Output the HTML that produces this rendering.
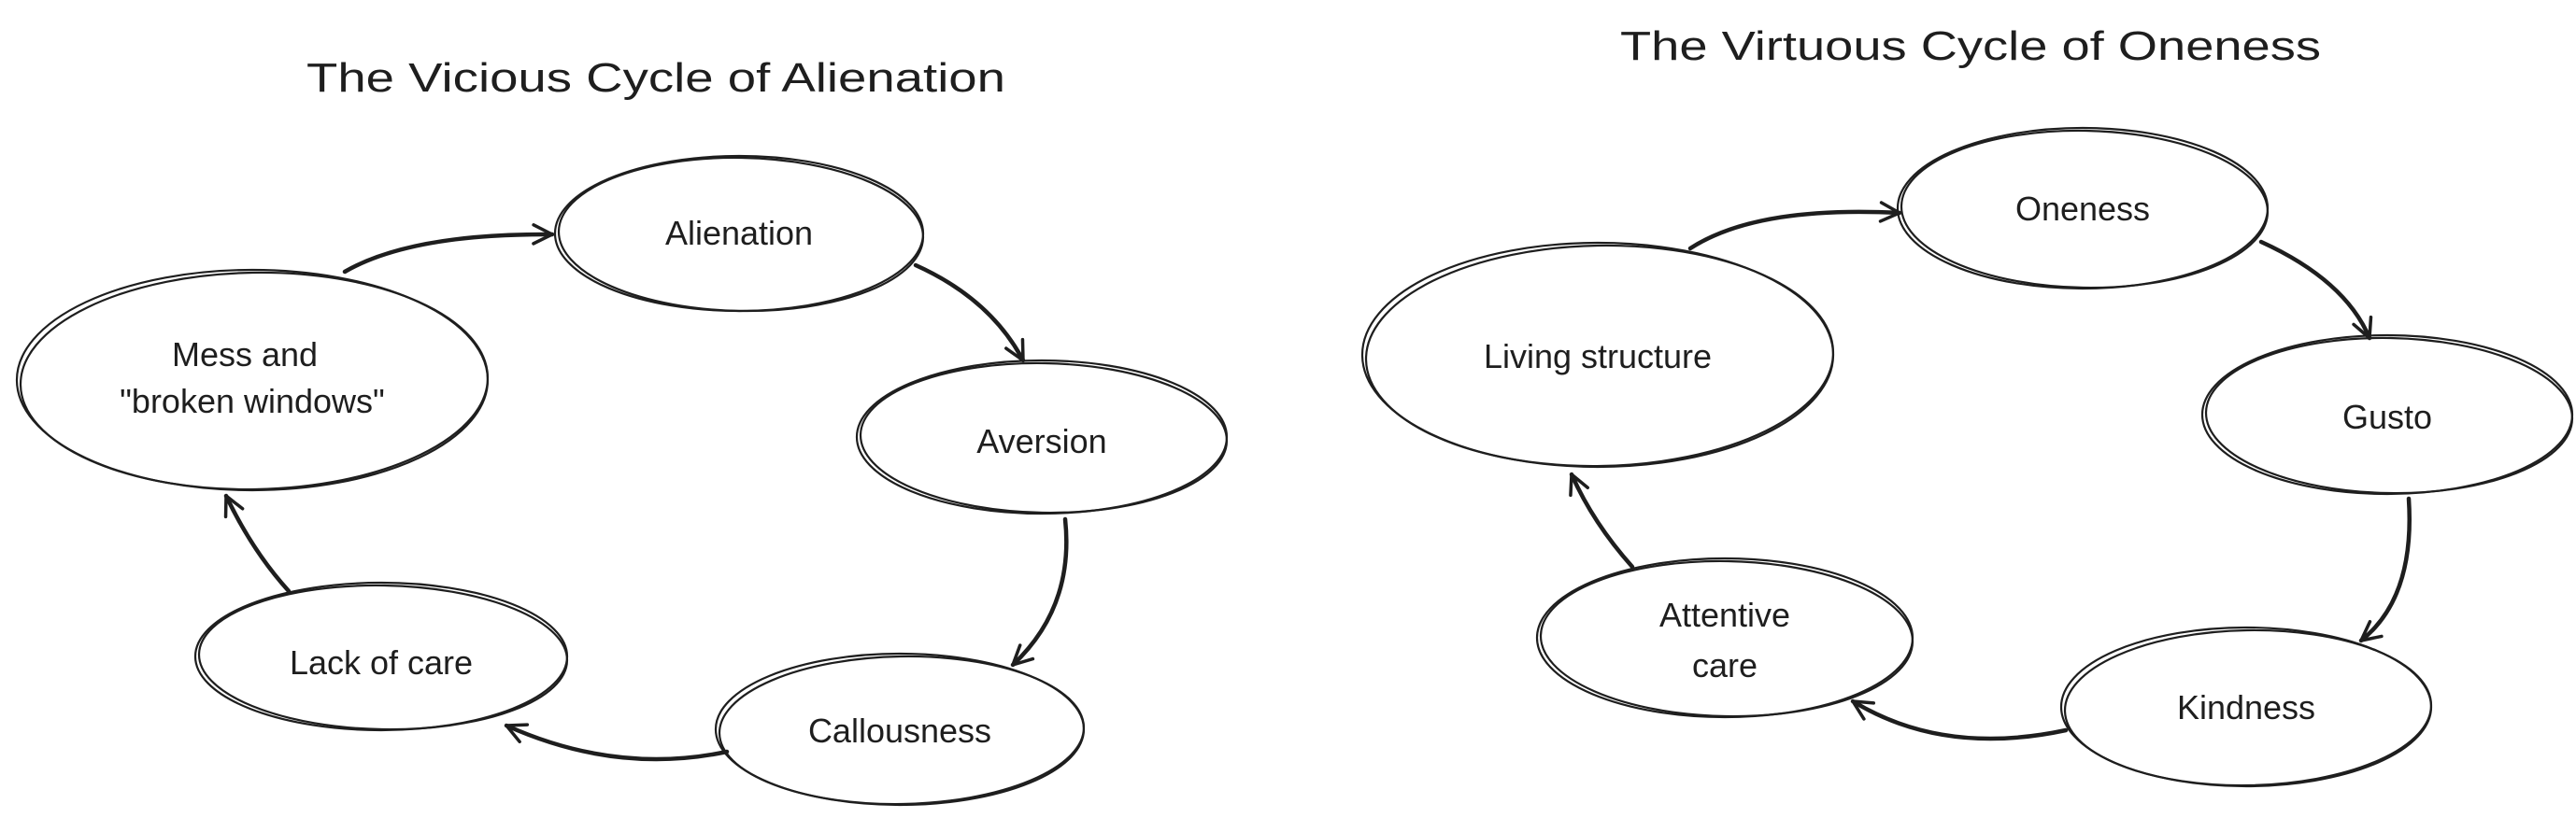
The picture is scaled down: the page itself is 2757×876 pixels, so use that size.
<!DOCTYPE html>
<html><head><meta charset="utf-8"><style>html,body{margin:0;padding:0;background:#fff}svg{display:block}</style></head>
<body>
<svg width="2757" height="876" viewBox="0 0 2757 876" xmlns="http://www.w3.org/2000/svg">
<defs>
<marker id="a" markerWidth="30" markerHeight="30" refX="22" refY="12" orient="auto" markerUnits="userSpaceOnUse">
<path d="M2,2 L22,12 L2,22" fill="none" stroke="#1e1e1e" stroke-width="3.5" stroke-linecap="round" stroke-linejoin="round"/>
</marker>
</defs>
<g fill="none" stroke="#1e1e1e" stroke-width="2.2">
<!-- left ellipses -->
<ellipse cx="791" cy="250" rx="197" ry="83"/><ellipse cx="793" cy="251" rx="195" ry="82" transform="rotate(1 793 251)"/>
<ellipse cx="270" cy="407" rx="252" ry="118"/><ellipse cx="272" cy="408" rx="250" ry="116" transform="rotate(-1 272 408)"/>
<ellipse cx="1115" cy="468" rx="198" ry="82"/><ellipse cx="1117" cy="469" rx="196" ry="80" transform="rotate(1 1117 469)"/>
<ellipse cx="963" cy="781" rx="197" ry="81"/><ellipse cx="965" cy="782" rx="195" ry="79" transform="rotate(-1 965 782)"/>
<ellipse cx="408" cy="703" rx="199" ry="79"/><ellipse cx="410" cy="704" rx="197" ry="77" transform="rotate(1 410 704)"/>
<!-- right ellipses -->
<ellipse cx="2229" cy="223" rx="198" ry="86"/><ellipse cx="2231" cy="224" rx="196" ry="84" transform="rotate(1 2231 224)"/>
<ellipse cx="1710" cy="380" rx="252" ry="120"/><ellipse cx="1712" cy="381" rx="250" ry="118" transform="rotate(-1 1712 381)"/>
<ellipse cx="2555" cy="444" rx="198" ry="85"/><ellipse cx="2557" cy="445" rx="196" ry="83" transform="rotate(1 2557 445)"/>
<ellipse cx="2404" cy="757" rx="198" ry="85"/><ellipse cx="2406" cy="758" rx="196" ry="83" transform="rotate(-1 2406 758)"/>
<ellipse cx="1846" cy="683" rx="201" ry="85"/><ellipse cx="1848" cy="684" rx="199" ry="83" transform="rotate(1 1848 684)"/>
</g>
<g fill="none" stroke="#1e1e1e" stroke-width="4.5" stroke-linecap="round" marker-end="url(#a)">
<path d="M369,291 Q440,250 591,251"/>
<path d="M980,284 Q1060,320 1095,386"/>
<path d="M1140,556 Q1150,650 1084,712"/>
<path d="M778,805 Q660,830 542,777"/>
<path d="M309,633 Q270,590 242,531"/>
<path d="M1809,266 Q1880,220 2033,228"/>
<path d="M2420,259 Q2510,300 2536,362"/>
<path d="M2578,534 Q2585,640 2527,686"/>
<path d="M2211,782 Q2080,810 1983,751"/>
<path d="M1747,607 Q1705,560 1682,508"/>
</g>
<g font-family="Liberation Sans, sans-serif" fill="#1e1e1e" text-anchor="middle" font-size="36">
<text x="702" y="98" font-size="44" textLength="748" lengthAdjust="spacingAndGlyphs">The Vicious Cycle of Alienation</text>
<text x="2109" y="64" font-size="44" textLength="750" lengthAdjust="spacingAndGlyphs">The Virtuous Cycle of Oneness</text>
<text x="791" y="262">Alienation</text>
<text x="262" y="392">Mess and</text>
<text x="270" y="442">"broken windows"</text>
<text x="1115" y="485">Aversion</text>
<text x="408" y="722">Lack of care</text>
<text x="963" y="795">Callousness</text>
<text x="2229" y="236">Oneness</text>
<text x="1710" y="394">Living structure</text>
<text x="2555" y="459">Gusto</text>
<text x="2404" y="770">Kindness</text>
<text x="1846" y="671">Attentive</text>
<text x="1846" y="725">care</text>
</g>
</svg>
</body></html>
